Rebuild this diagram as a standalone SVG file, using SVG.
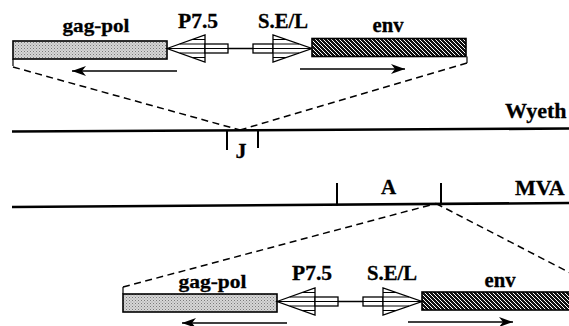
<svg xmlns="http://www.w3.org/2000/svg" width="569" height="326" viewBox="0 0 569 326">
<style>
.lbl{font-family:"Liberation Serif","Times New Roman",serif;font-weight:bold;fill:#000;stroke:#000;stroke-width:0.3;text-anchor:middle}
.lbs{font-family:"Liberation Serif","Times New Roman",serif;font-weight:bold;fill:#000;stroke:#000;stroke-width:0.3}
.box{stroke:#000;stroke-width:1.6}
.prom{fill:#fff;stroke:#000;stroke-width:1.3}
.str{stroke:#000;stroke-width:1}
.dash{fill:none;stroke:#000;stroke-width:1.5;stroke-dasharray:7 4.5}
.genome{stroke:#000;stroke-width:2.6;fill:none}
.tick{stroke:#000;stroke-width:2;fill:none}
.arr{stroke:#000;stroke-width:1.6;fill:none;marker-end:url(#ah)}
</style>
<defs>
<pattern id="stip" patternUnits="userSpaceOnUse" width="3" height="3">
<rect width="3" height="3" fill="#d6d6d6"/>
<rect x="0" y="0" width="1" height="1" fill="#7a7a7a"/>
<rect x="1.5" y="1.5" width="1" height="1" fill="#999"/>
</pattern>
<pattern id="hatch" patternUnits="userSpaceOnUse" width="4" height="4">
<rect width="4" height="4" fill="#111"/>
<path d="M-1,-1 L5,5 M-1,3 L1,5 M3,-1 L5,1" stroke="#fff" stroke-width="1"/>
</pattern>
<marker id="ah" markerUnits="userSpaceOnUse" markerWidth="18" markerHeight="12" refX="14" refY="5" orient="auto">
<path d="M14,5 L0,0 L4,5 L0,10 Z" fill="#000"/>
</marker>
</defs>

<g id="connectors">
<path class="tick" d="M13,59 V66" style="stroke-width:1.2"/>
<path class="dash" d="M13,67 L240,130"/>
<path class="tick" d="M467,56.5 V63" style="stroke-width:1.2"/>
<path class="dash" d="M467,63 L240,130"/>
<path class="tick" d="M123,287 V294" style="stroke-width:1.2"/>
<path class="dash" d="M123,287 L436,203.5"/>
<path class="dash" d="M436,203.5 L580,278"/>
</g>

<g id="wyeth">
<path class="genome" d="M12,131.5 L569,128.5"/>
<path class="tick" d="M227,131 V150 M258,131 V148"/>
<text class="lbl" x="241" y="158" font-size="22">J</text>
<text class="lbs" x="505" y="118" font-size="22">Wyeth</text>
</g>

<g id="mva">
<path class="genome" d="M12,207 L569,203"/>
<path class="tick" d="M337,183 V205.5 M441,183 V204"/>
<text class="lbl" x="388.5" y="193.5" font-size="21">A</text>
<text class="lbs" x="515" y="195" font-size="22">MVA</text>
</g>

<g id="cassette-top">
<g id="gagpol-top">
<rect class="box" x="13" y="41" width="154" height="18" fill="url(#stip)"/>
<text class="lbl" x="96" y="32" font-size="19" textLength="67" lengthAdjust="spacingAndGlyphs">gag-pol</text>
<path class="arr" d="M177,71 L72,71"/>
</g>
<g id="p75-top">
<polygon class="prom" points="167,48.5 205,35 205,62"/>
<path class="str" d="M167,48.5 H205 M179.7,44 H205 M179.7,53 H205 M192.3,39.5 H205 M192.3,57.5 H205"/>
<rect class="prom" x="205" y="44" width="23" height="9"/>
<path class="str" d="M205,48.5 H228"/>
<text class="lbl" x="198" y="28" font-size="20" textLength="40" lengthAdjust="spacingAndGlyphs">P7.5</text>
</g>
<path d="M228,48.5 H253" stroke="#000" stroke-width="1.5"/>
<g id="sel-top">
<rect class="prom" x="253" y="44" width="20" height="9"/>
<path class="str" d="M253,48.5 H273"/>
<polygon class="prom" points="273,35 273,62 312,48.5"/>
<path class="str" d="M273,48.5 H312 M273,44 H299 M273,53 H299 M273,39.5 H286 M273,57.5 H286"/>
<text class="lbl" x="283" y="27.5" font-size="20" textLength="50" lengthAdjust="spacingAndGlyphs">S.E/L</text>
</g>
<g id="env-top">
<rect class="box" x="312" y="38.5" width="154" height="18" fill="url(#hatch)"/>
<text class="lbl" x="388" y="32" font-size="20" textLength="31" lengthAdjust="spacingAndGlyphs">env</text>
<path class="arr" d="M300,69 L405,69"/>
</g>
</g>

<g id="cassette-bottom">
<g id="gagpol-bottom">
<rect class="box" x="123" y="294" width="154" height="18" fill="url(#stip)"/>
<text class="lbl" x="212.5" y="288" font-size="19" textLength="68" lengthAdjust="spacingAndGlyphs">gag-pol</text>
<path class="arr" d="M287,323 L182,323"/>
</g>
<g id="p75-bottom" transform="translate(110,253)">
<polygon class="prom" points="167,48.5 205,35 205,62"/>
<path class="str" d="M167,48.5 H205 M179.7,44 H205 M179.7,53 H205 M192.3,39.5 H205 M192.3,57.5 H205"/>
<rect class="prom" x="205" y="44" width="23" height="9"/>
<path class="str" d="M205,48.5 H228"/>
</g>
<text class="lbl" x="312" y="280" font-size="20" textLength="40" lengthAdjust="spacingAndGlyphs">P7.5</text>
<path d="M338,301.5 H363" stroke="#000" stroke-width="1.5"/>
<g id="sel-bottom" transform="translate(110,253)">
<rect class="prom" x="253" y="44" width="20" height="9"/>
<path class="str" d="M253,48.5 H273"/>
<polygon class="prom" points="273,35 273,62 312,48.5"/>
<path class="str" d="M273,48.5 H312 M273,44 H299 M273,53 H299 M273,39.5 H286 M273,57.5 H286"/>
</g>
<text class="lbl" x="392" y="280" font-size="20" textLength="50" lengthAdjust="spacingAndGlyphs">S.E/L</text>
<g id="env-bottom">
<rect class="box" x="422" y="292" width="154" height="18" fill="url(#hatch)"/>
<text class="lbl" x="500" y="287" font-size="20" textLength="31" lengthAdjust="spacingAndGlyphs">env</text>
<path class="arr" d="M408,322 L513,322"/>
</g>
</g>
</svg>
